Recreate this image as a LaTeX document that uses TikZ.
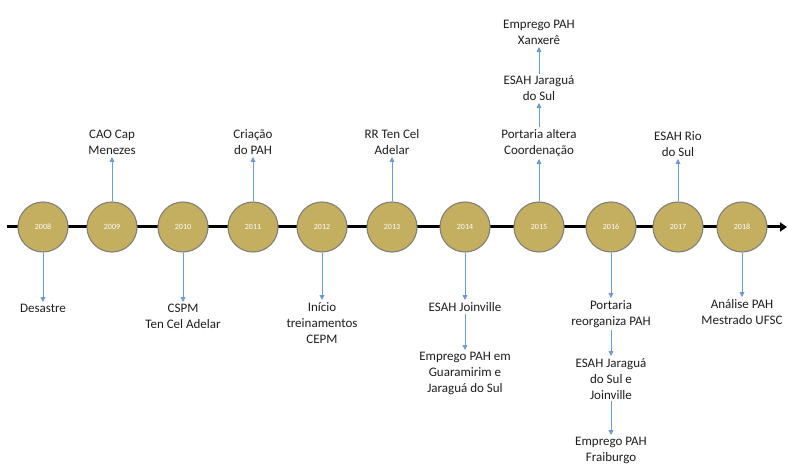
\documentclass[tikz,border=0pt]{standalone}
\usepackage{fontspec}
\setmainfont{Carlito}
\usetikzlibrary{arrows.meta}
\definecolor{gold}{RGB}{196,174,96}
\definecolor{ring}{RGB}{128,128,120}
\definecolor{arr}{RGB}{110,155,205}
\definecolor{txt}{RGB}{30,30,30}
\begin{document}
\begin{tikzpicture}[x=1pt,y=-1pt,
  year/.style={circle,fill=gold,draw=ring,line width=1.1pt,minimum size=50pt,inner sep=0pt,
    text=white,font=\fontsize{8}{9}\selectfont},
  lbl/.style={align=center,inner xsep=1pt,inner ysep=2pt,text=txt,font=\fontsize{13}{16}\selectfont},
  conn/.style={draw=arr,line width=0.8pt,-{Triangle[width=5pt,length=5pt]}},
  axis/.style={line width=3pt,-{Triangle[width=9pt,length=7pt]}}]
\useasboundingbox (0,0) rectangle (788,468);
\coordinate (a0) at (7,227);
\coordinate (a1) at (787,227);
\draw[axis] (a0) -- (a1);
\foreach \yr/\x in {2008/43,2009/112,2010/183,2011/253,2012/322,2013/392,2014/465,2015/539,2016/611,2017/678,2018/742}
  \node[year] (y\yr) at (\x,227) {\yr};
% below
\node[lbl,anchor=north] (d2008) at (43,302) {Desastre};
\node[lbl,anchor=north] (d2010) at (183,302) {CSPM\\Ten Cel Adelar};
\node[lbl,anchor=north] (d2012) at (322,300) {Início\\treinamentos\\CEPM};
\node[lbl,anchor=north] (d2014a) at (465,300) {ESAH Joinville};
\node[lbl,anchor=north] (d2014b) at (465,350) {Emprego PAH em\\Guaramirim e\\Jaraguá do Sul};
\node[lbl,anchor=north] (d2016a) at (611,298) {Portaria\\reorganiza PAH};
\node[lbl,anchor=north] (d2016b) at (611,356) {ESAH Jaraguá\\do Sul e\\Joinville};
\node[lbl,anchor=north] (d2016c) at (611,435) {Emprego PAH\\Fraiburgo};
\node[lbl,anchor=north] (d2018) at (742,297) {Análise PAH\\Mestrado UFSC};
% above
\node[lbl,anchor=south] (u2009) at (112,157) {CAO Cap\\Menezes};
\node[lbl,anchor=south] (u2011) at (253,157) {Criação\\do PAH};
\node[lbl,anchor=south] (u2013) at (392,157) {RR Ten Cel\\Adelar};
\node[lbl,anchor=south] (u2015a) at (539,159) {Portaria altera\\Coordenação};
\node[lbl,anchor=south] (u2015b) at (539,103) {ESAH Jaraguá\\do Sul};
\node[lbl,anchor=south] (u2015c) at (539,47) {Emprego PAH\\Xanxerê};
\node[lbl,anchor=south] (u2017) at (678,159) {ESAH Rio\\do Sul};
% connectors
\draw[conn] (y2008) -- (d2008);
\draw[conn] (y2010) -- (d2010);
\draw[conn] (y2012) -- (d2012);
\draw[conn] (y2014) -- (d2014a);
\draw[conn] (d2014a) -- (d2014b);
\draw[conn] (y2016) -- (d2016a);
\draw[conn] (d2016a) -- (d2016b);
\draw[conn] (d2016b) -- (d2016c);
\draw[conn] (y2018) -- (d2018);
\draw[conn] (y2009) -- (u2009);
\draw[conn] (y2011) -- (u2011);
\draw[conn] (y2013) -- (u2013);
\draw[conn] (y2015) -- (u2015a);
\draw[conn] (u2015a) -- (u2015b);
\draw[conn] (u2015b) -- (u2015c);
\draw[conn] (y2017) -- (u2017);
\end{tikzpicture}
\end{document}
